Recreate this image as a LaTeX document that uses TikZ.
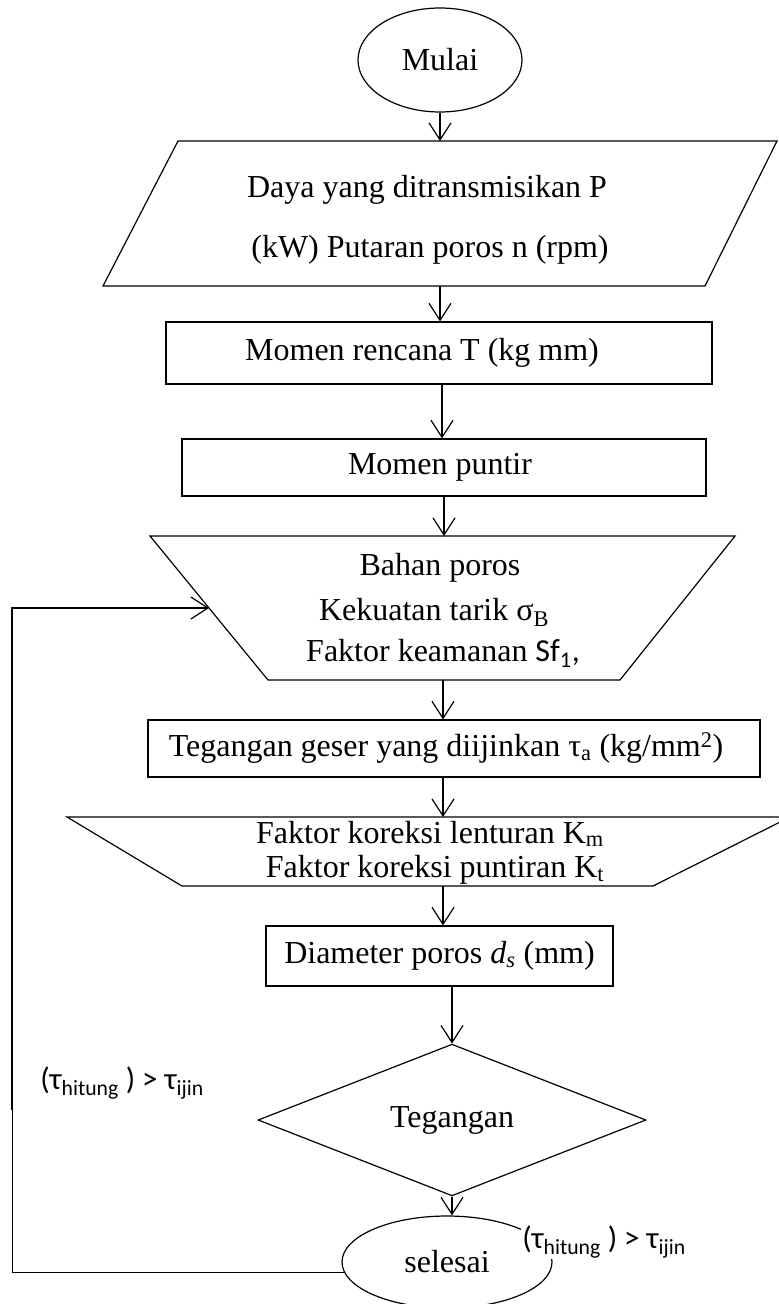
\documentclass[tikz,border=0pt]{standalone}
\usepackage{fontspec}
\setmainfont{Liberation Serif}
\newfontfamily\calib{Carlito}
\usetikzlibrary{arrows.meta,shapes.geometric}
\begin{document}
\begin{tikzpicture}[x=1pt,y=-1pt,line width=1.2pt,
  arr/.style={-{Straight Barb[length=17pt,width=22pt,line width=1.2pt]}},
  txt/.style={font=\fontsize{32}{38}\selectfont,inner sep=0pt},
  boxnode/.style={draw,txt,rectangle},
  lbl/.style={font=\calib\fontsize{31}{36}\selectfont,inner sep=1pt}]
\useasboundingbox (0,0) rectangle (779,1304);

% start
\node[draw,ellipse,txt,minimum width=164pt,minimum height=104pt] (start) at (440,60) {Mulai};

% input parallelogram
\draw (178,141) -- (777,141) -- (705,286) -- (103,286) -- cycle;
\coordinate (par-t) at (440,141);
\coordinate (par-b) at (440,286);
\node[txt] (par1) at (427,190) {Daya yang ditransmisikan P};
\node[txt] (par2) at (430,250) {(kW) Putaran poros n (rpm)};

% boxes
\node[boxnode,minimum width=546pt,minimum height=62pt] (b1) at (439,353) {Momen rencana T (kg mm)\hspace*{34pt}};
\node[boxnode,minimum width=524pt,minimum height=57pt] (b2) at (444,467.5) {Momen puntir\hspace*{8pt}};

% trapezium 1
\draw (150,536) -- (735,536) -- (620,680) -- (268,680) -- cycle;
\coordinate (t1-t) at (444,536);
\coordinate (t1-b) at (443,680);
\coordinate (t1-l) at (209,608);
\node[txt] (t1a) at (440,568) {Bahan poros};
\node[txt] (t1b) at (434,612) {Kekuatan tarik σ\textsubscript{B}};
\node[txt] (t1c) at (443,653) {Faktor keamanan {\calib Sf\textsubscript{1},}};

\node[boxnode,minimum width=612pt,minimum height=57pt] (b3) at (454,748.5) {Tegangan geser yang diijinkan τ\textsubscript{a} (kg/mm\textsuperscript{2})\hspace*{16pt}};

% trapezium 2
\draw (67,817) -- (790,817) -- (653,886) -- (182,886) -- cycle;
\coordinate (t2-t) at (443,817);
\coordinate (t2-b) at (443,886);
\node[txt] (t2a) at (430,834) {Faktor koreksi lenturan K\textsubscript{m}};
\node[txt] (t2b) at (435,870) {Faktor koreksi puntiran K\textsubscript{t}};

\node[boxnode,minimum width=347pt,minimum height=60pt] (b4) at (439.5,956) {Diameter poros \textit{d\textsubscript{s}} (mm)};

% decision
\node[draw,diamond,txt,minimum width=388pt,minimum height=114pt] (dec) at (452,1120) {Tegangan};

% end
\node[draw,ellipse,txt,minimum width=210pt,minimum height=92pt] (end) at (447,1262) {\raisebox{-8pt}{selesai}};

% arrows
\draw[arr] (start.south) -- (par-t);
\draw[arr] (par-b) -- (par-b |- b1.north);
\draw[arr] (b1.south -| 442,0) -- (b2.north -| 442,0);
\draw[arr] (b2.south -| 444,0) -- (t1-t);
\draw[arr] (t1-b) -- (t1-b |- b3.north);
\draw[arr] (b3.south -| 443,0) -- (t2-t);
\draw[arr] (t2-b) -- (t2-b |- b4.north);
\draw[arr] (b4.south -| 452,0) -- (dec.north);
\draw[arr] (dec.south) -- (dec.south |- end.north);

% feedback loop
\coordinate (fb-top) at (12,608);
\coordinate (fb-mid) at (12,1110);
\draw[line width=2pt,arr] (fb-mid) -- (fb-top) -- (t1-l);
\draw[line width=1pt] (end.186) -- (end.186 -| fb-mid) -- (fb-mid);

% labels
\node[lbl] (l1) at (122,1083) {(τ\textsubscript{hitung} ) > τ\textsubscript{ijin}};
\node[lbl,fill=white] (l2) at (604,1242) {(τ\textsubscript{hitung} ) > τ\textsubscript{ijin}};
\end{tikzpicture}
\end{document}
